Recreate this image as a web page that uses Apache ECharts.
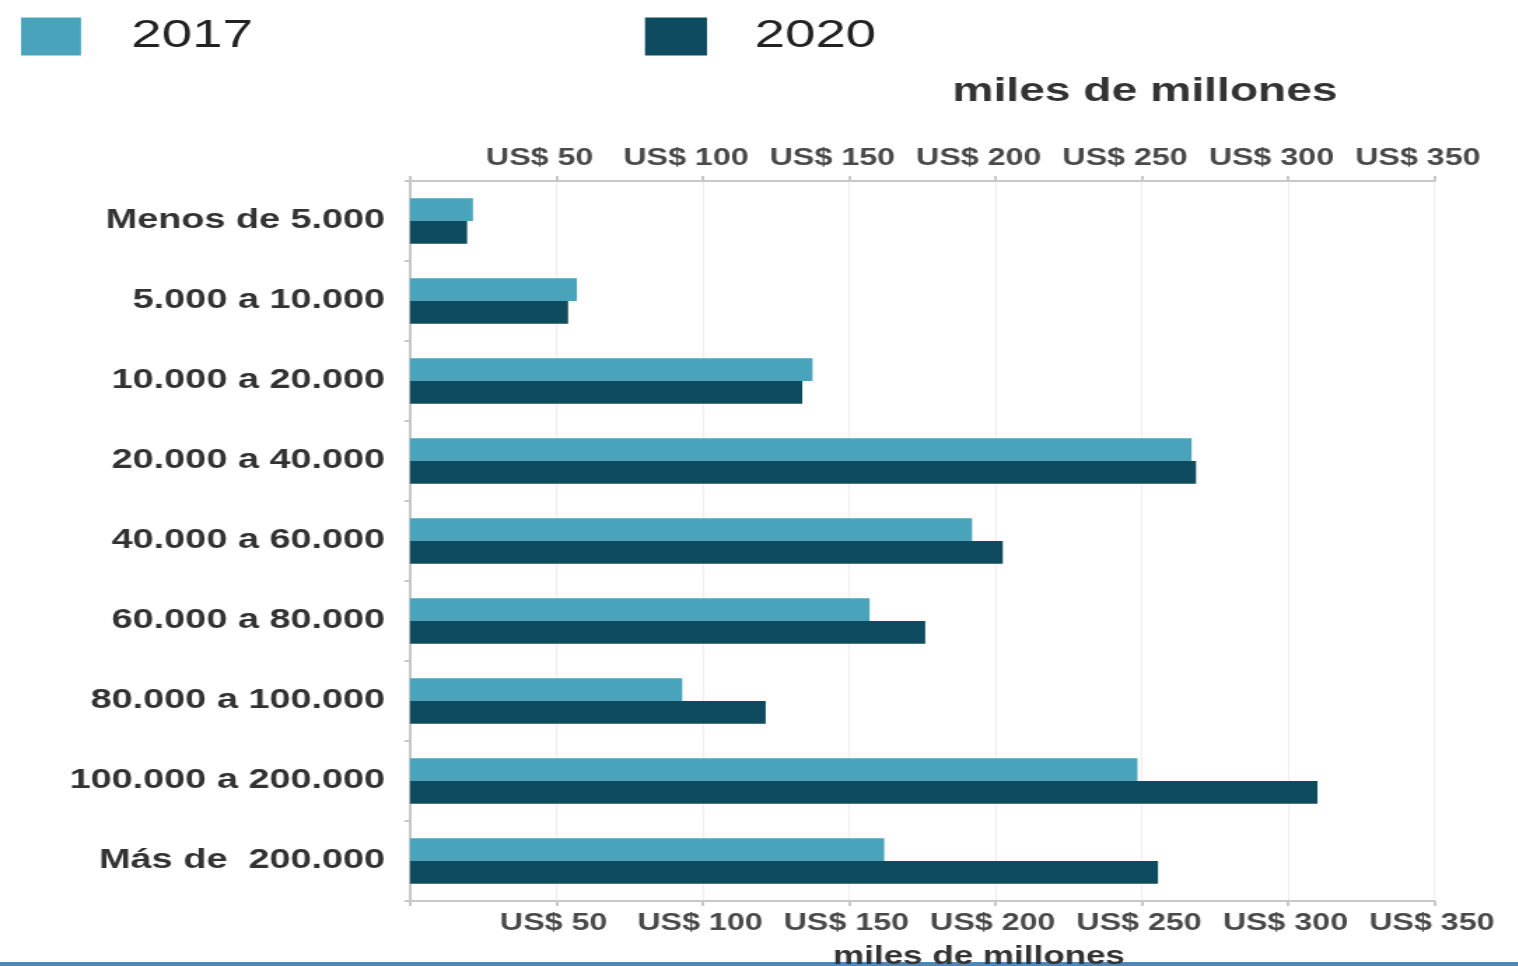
<!DOCTYPE html>
<html>
<head>
<meta charset="utf-8">
<script src="https://cdn.jsdelivr.net/npm/echarts@6/dist/echarts.min.js"></script>
<style>
html,body{margin:0;padding:0;background:#fff;overflow:hidden;}
#wrap{width:1518px;height:966px;overflow:hidden;position:relative;}
#c{position:absolute;left:0;top:0;height:966px;transform-origin:0 0;}
</style>
</head>
<body>
<div id="wrap"><div id="c"></div></div>
<script>
const categories = ['Menos de 5.000','5.000 a 10.000','10.000 a 20.000','20.000 a 40.000','40.000 a 60.000','60.000 a 80.000','80.000 a 100.000','100.000 a 200.000','Más de  200.000'];
const values2017 = [21.5, 57, 137.5, 267, 192, 157, 93, 248.5, 162];
const values2020 = [19.5, 54, 134, 268.5, 202.5, 176, 121.5, 310, 255.5];
const seriesNames = ['2017', '2020'];
const axisUnit = 'miles de millones';

// the reference text is horizontally stretched: draw narrower and stretch the canvas
const S = 1.4;
const W = 1518 / S;
const el = document.getElementById('c');
el.style.width = W + 'px';
el.style.transform = 'scaleX(' + S + ')';
const px = v => v / S;

const colors = ['#49a4bb', '#0e4b5e'];
const fontFam = 'Liberation Sans, Arial, sans-serif';
const tickFmt = v => v === 0 ? '' : 'US$ ' + v;

const xCommon = {
  type: 'value', min: 0, max: 350, interval: 50,
  axisLine: {show: true, lineStyle: {color: '#c8c8c8', width: 2}},
  axisTick: {show: true, length: 5, lineStyle: {color: '#c8c8c8', width: 2}},
  splitLine: {show: true, lineStyle: {color: '#eeeeee', width: 1}},
  axisLabel: {formatter: tickFmt, color: '#4a4a4a', fontSize: 23, fontWeight: 'bold', fontFamily: fontFam, margin: 11}
};

const chart = echarts.init(el);
chart.setOption({
  animation: false,
  backgroundColor: '#fff',
  legend: [
    {data: [seriesNames[0]], left: px(14), top: 12, itemWidth: px(60), itemHeight: 38,
     icon: 'rect', textStyle: {fontSize: 39, color: '#222', fontFamily: fontFam, padding: [0,0,0,31]}},
    {data: [seriesNames[1]], left: px(638), top: 12, itemWidth: px(62), itemHeight: 38,
     icon: 'rect', textStyle: {fontSize: 39, color: '#222', fontFamily: fontFam, padding: [0,0,0,29]}}
  ],
  title: [
    {text: axisUnit, left: px(1138), top: 70, textAlign: 'center',
     textStyle: {fontSize: 33, fontWeight: 'bold', color: '#333', fontFamily: fontFam}},
    {text: axisUnit, left: px(972), top: 940, textAlign: 'center',
     textStyle: {fontSize: 25, fontWeight: 'bold', color: '#333', fontFamily: fontFam}}
  ],
  grid: {left: px(410), right: px(83), top: 181, bottom: 65, containLabel: false},
  xAxis: [
    Object.assign({}, xCommon, {position: 'top', axisLabel: Object.assign({}, xCommon.axisLabel, {padding: [0, 24, 0, 0]})}),
    Object.assign({}, xCommon, {position: 'bottom', axisLabel: Object.assign({}, xCommon.axisLabel, {padding: [0, 4, 0, 0]})})
  ],
  yAxis: {
    type: 'category', data: categories, inverse: true,
    axisLine: {show: true, lineStyle: {color: '#c8c8c8', width: 2}},
    axisTick: {show: true, length: 4, lineStyle: {color: '#c8c8c8', width: 2}},
    axisLabel: {color: '#333', fontSize: 27, fontWeight: 'bold', fontFamily: fontFam, margin: px(25)}
  },
  series: [
    {name: seriesNames[0], type: 'bar', xAxisIndex: 0, data: values2017, barGap: '0%', barCategoryGap: '43%',
     itemStyle: {color: colors[0]}},
    {name: seriesNames[1], type: 'bar', xAxisIndex: 0, data: values2020, barGap: '0%', barCategoryGap: '43%',
     itemStyle: {color: colors[1]}}
  ],
  graphic: [
    {type: 'rect', left: 0, top: 962, shape: {width: W, height: 4}, style: {fill: '#4f86b8'}}
  ]
});
</script>
</body>
</html>
